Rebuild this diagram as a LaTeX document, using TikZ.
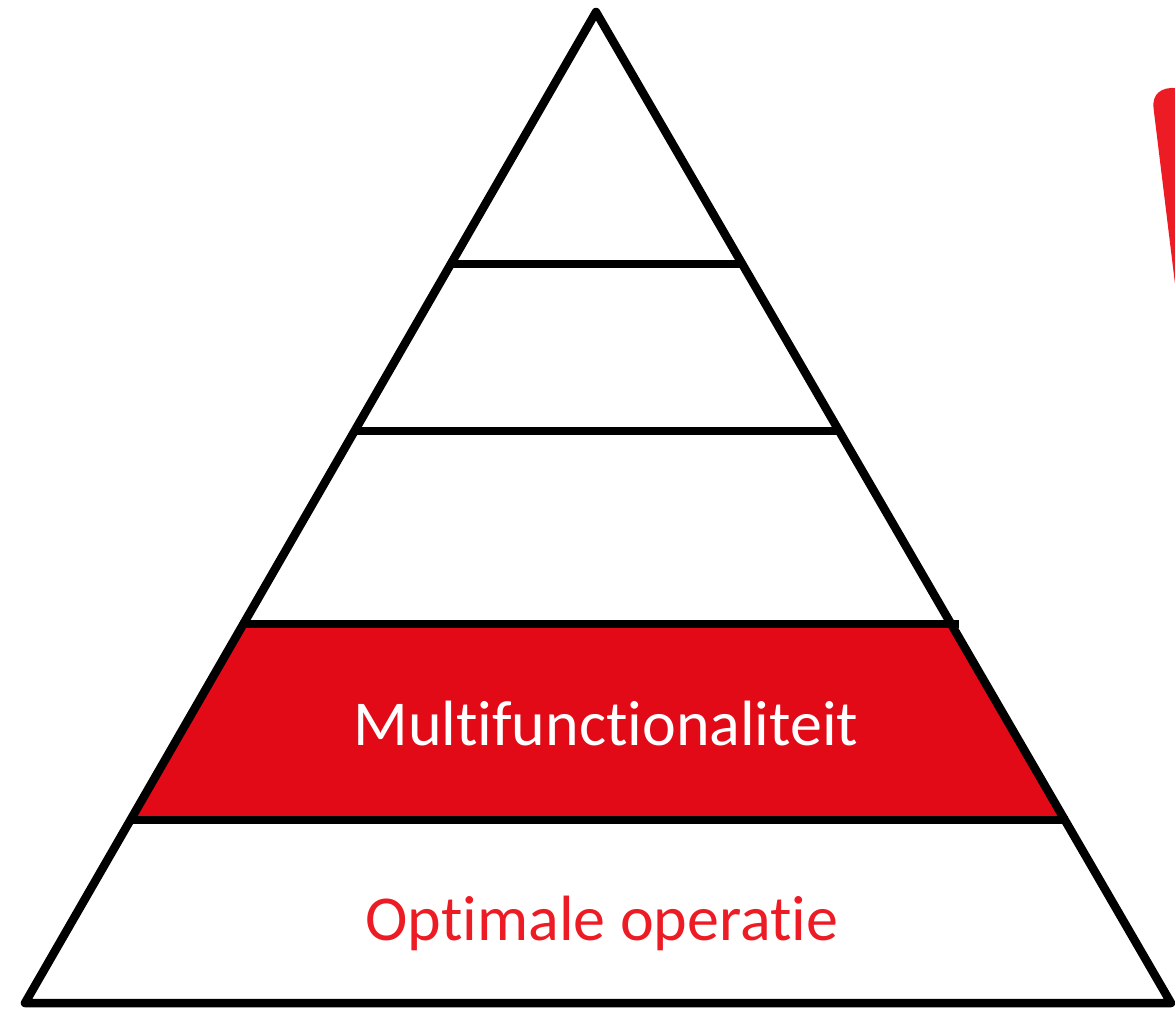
\documentclass[tikz,border=0pt]{standalone}
\usepackage{fontspec}
\setmainfont{Carlito}[Ligatures={NoCommon,NoContextual,NoRare}]
\definecolor{bandred}{HTML}{E20A16}
\definecolor{txtred}{HTML}{ED1C24}
\begin{document}
\begin{tikzpicture}[x=1pt,y=-1pt,
  edge/.style={line width=8.5pt,line join=round,draw=black},
  shelf/.style={line width=8.5pt,draw=black},
  lbl/.style={font=\fontsize{64}{70}\selectfont,inner sep=0pt,anchor=base}]
\useasboundingbox (0,0) rectangle (1175,1009);
% red wedge at the top right
\fill[txtred] (1176,292) -- (1153.5,108) .. controls (1152,94) and (1161,87) .. (1176,88) -- cycle;
% red band
\fill[bandred] (247,624) -- (955,624) -- (1066,820) -- (134,820) -- cycle;
% pyramid outline
\coordinate (apex) at (596,12);
\coordinate (bl) at (25,1003);
\coordinate (br) at (1171,1003);
\draw[edge] (bl) -- (apex) -- (br) -- cycle;
% shelves
\draw[shelf] (451,264) -- (742,264);
\draw[shelf] (355,431) -- (838,431);
\draw[shelf] (245,624) -- (959,624);
\draw[shelf] (132,820) -- (1068,820);
% labels
\node[lbl,text=white] (multi) at (606,745) {Multifunctionaliteit};
\node[lbl,text=txtred] (opt) at (602,940) {Optimale operatie};
\end{tikzpicture}
\end{document}
